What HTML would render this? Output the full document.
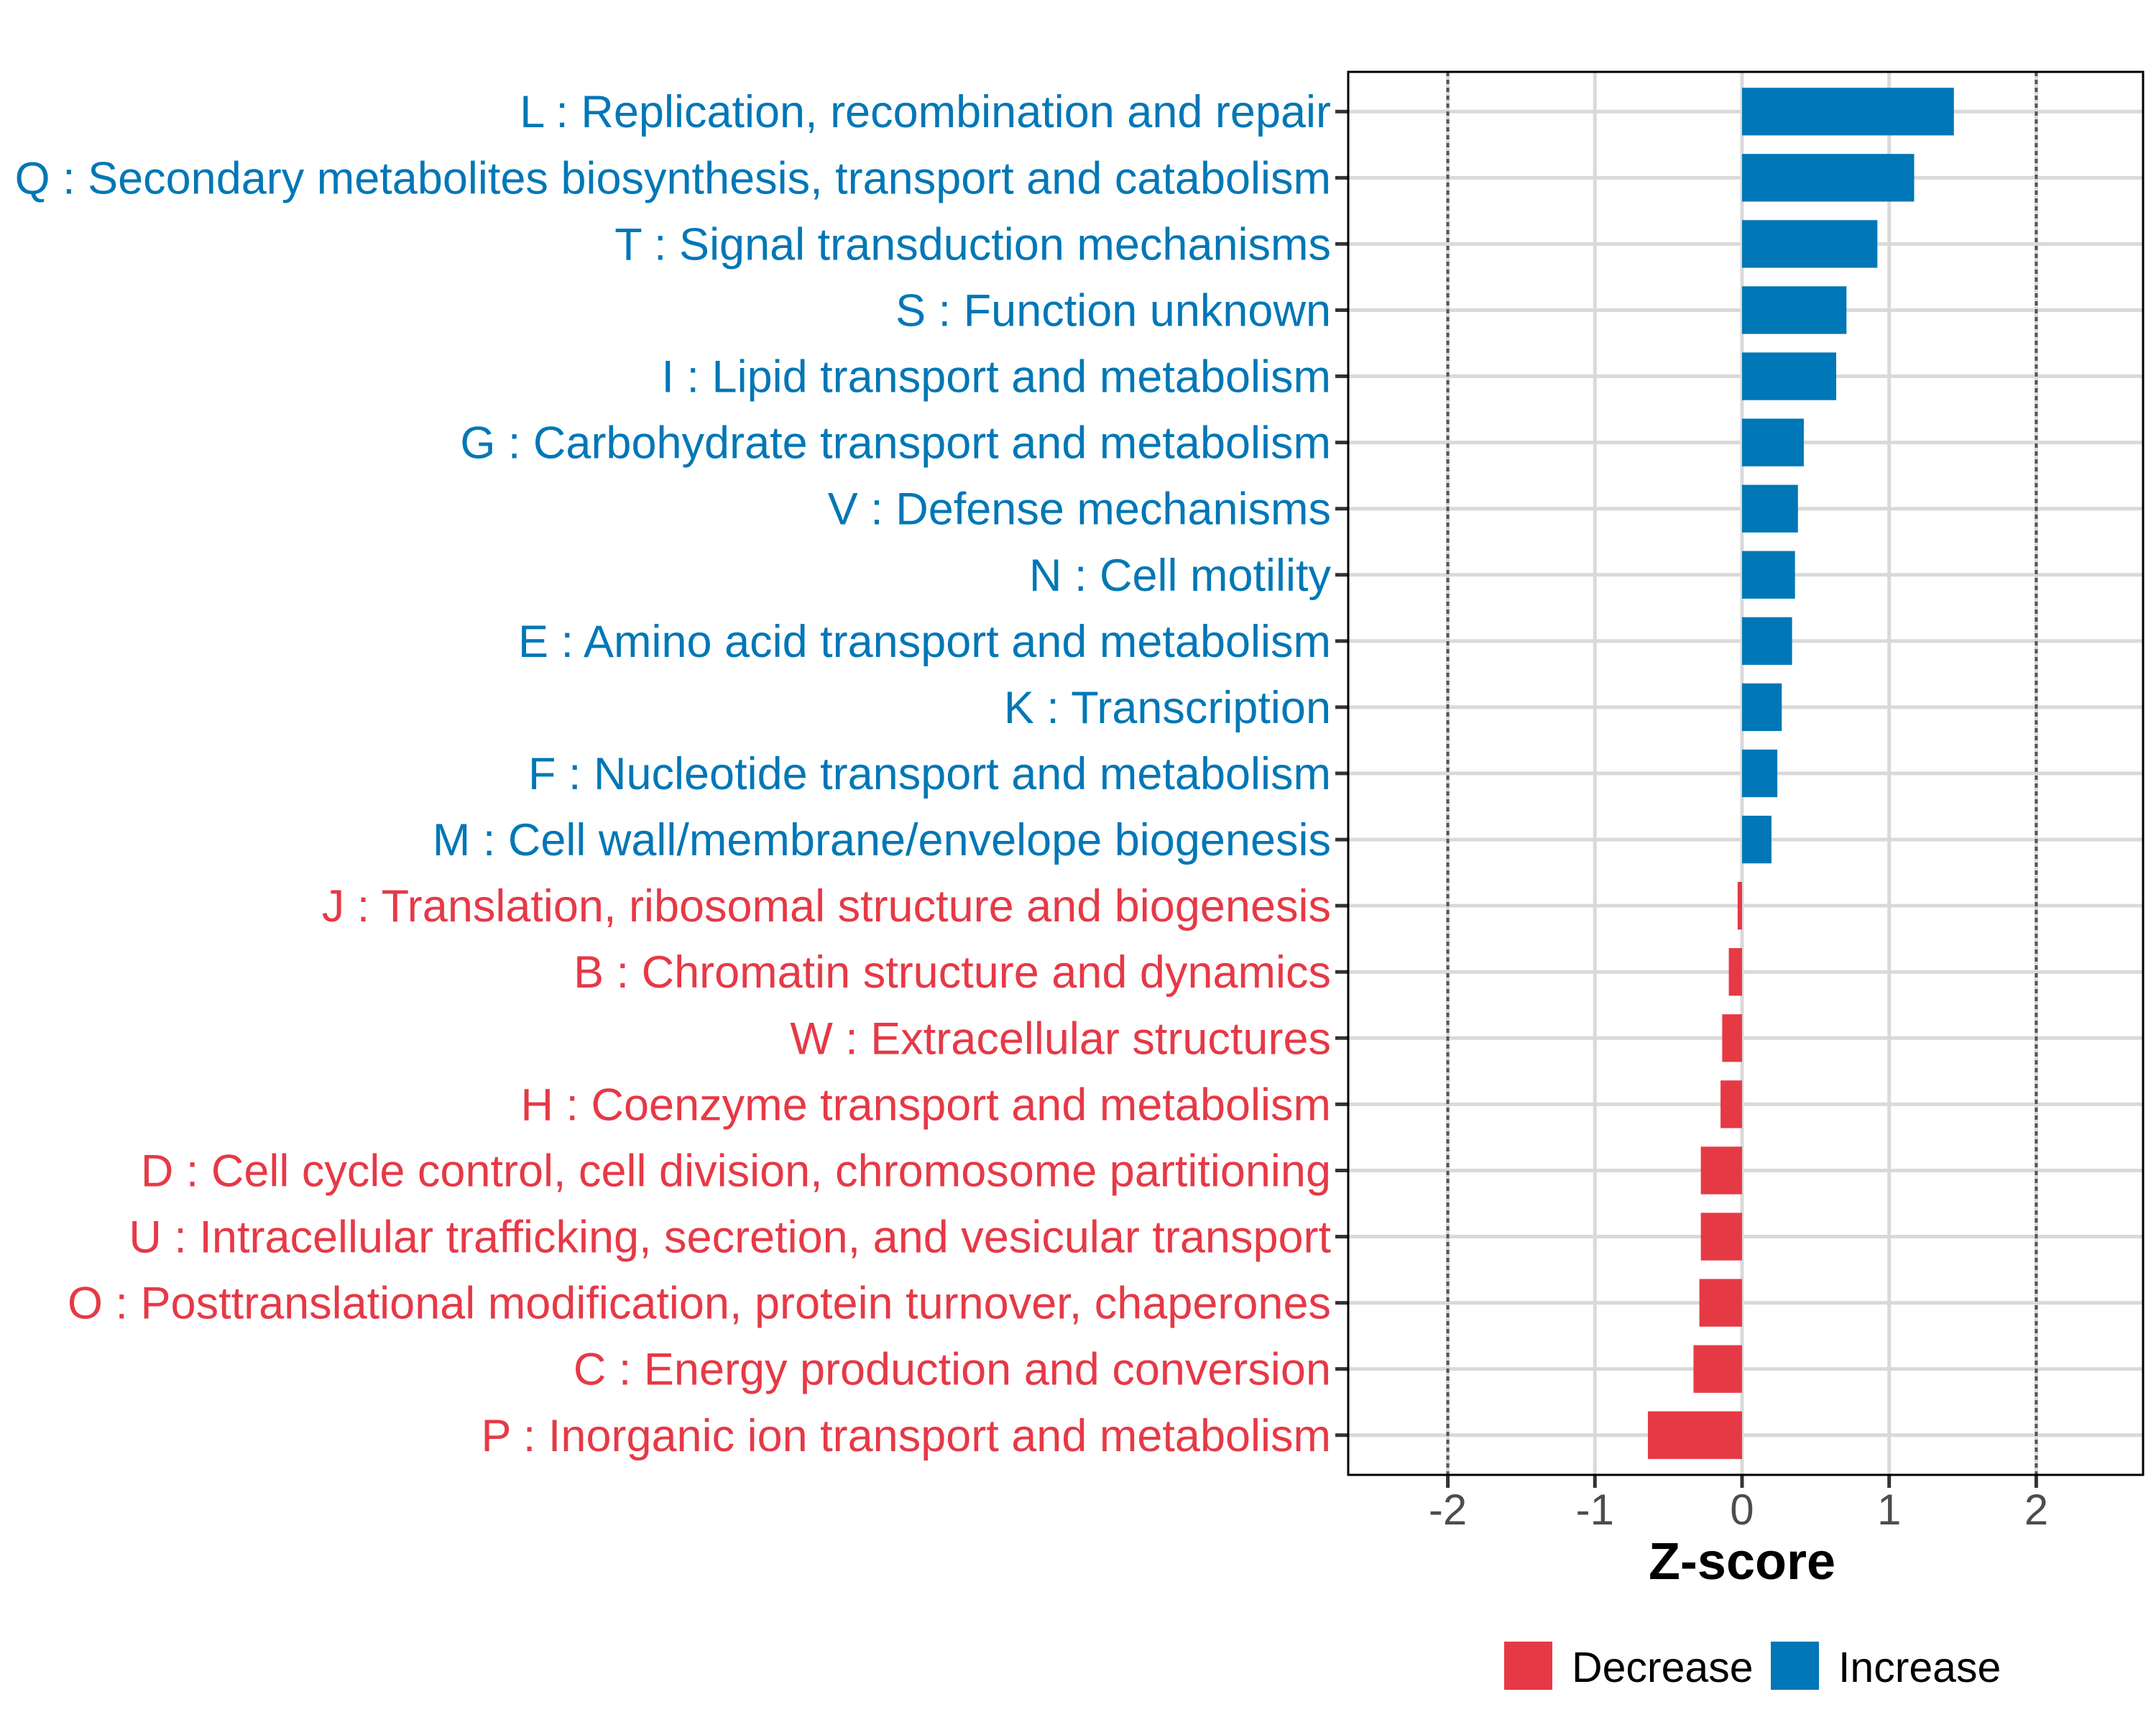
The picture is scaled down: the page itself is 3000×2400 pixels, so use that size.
<!DOCTYPE html>
<html><head><meta charset="utf-8"><style>
html,body{margin:0;padding:0;background:#fff;}
svg{display:block;font-family:"Liberation Sans",sans-serif;}
</style></head><body>
<svg id="chart" width="3000" height="2400" viewBox="0 0 3000 2400" xmlns="http://www.w3.org/2000/svg">
<rect width="3000" height="2400" fill="#fff"/>
<g id="grid"></g>
<g id="bars"></g>
<g id="yaxis"></g>
<g id="xaxis"></g>
<rect x="1876" y="100" width="1106" height="1952" fill="none" stroke="#000" stroke-width="3"/>
<text x="2424" y="2197" text-anchor="middle" font-size="72" font-weight="bold" fill="#000">Z-score</text>
<g>
<rect x="2093" y="2284" width="67" height="67" fill="#e63946"/>
<text x="2187" y="2340" font-size="59" fill="#000">Decrease</text>
<rect x="2464" y="2284" width="67" height="67" fill="#0077b6"/>
<text x="2558" y="2340" font-size="59" fill="#000">Increase</text>
</g>
</svg>
<script>
const categories = [
"L : Replication, recombination and repair",
"Q : Secondary metabolites biosynthesis, transport and catabolism",
"T : Signal transduction mechanisms",
"S : Function unknown",
"I : Lipid transport and metabolism",
"G : Carbohydrate transport and metabolism",
"V : Defense mechanisms",
"N : Cell motility",
"E : Amino acid transport and metabolism",
"K : Transcription",
"F : Nucleotide transport and metabolism",
"M : Cell wall/membrane/envelope biogenesis",
"J : Translation, ribosomal structure and biogenesis",
"B : Chromatin structure and dynamics",
"W : Extracellular structures",
"H : Coenzyme transport and metabolism",
"D : Cell cycle control, cell division, chromosome partitioning",
"U : Intracellular trafficking, secretion, and vesicular transport",
"O : Posttranslational modification, protein turnover, chaperones",
"C : Energy production and conversion",
"P : Inorganic ion transport and metabolism"
];
const zscores = [1.44,1.17,0.92,0.71,0.64,0.42,0.38,0.36,0.34,0.27,0.24,0.20,-0.03,-0.09,-0.135,-0.146,-0.28,-0.28,-0.29,-0.33,-0.64];
const xTicks = [-2,-1,0,1,2];
const xTickLabels = ["-2","-1","0","1","2"];
const thresholds = [-2,2];

const NS="http://www.w3.org/2000/svg";
const PX0=1876, PX1=2982, PY0=100, PY1=2052;
const XMIN=-2.677, XMAX=2.726;
function xs(v){return PX0+(v-XMIN)/(XMAX-XMIN)*(PX1-PX0);}
const n=categories.length;
const step=(PY1-PY0)/(n+0.2);
function ys(i){return PY0+step*(i+0.6);}
const BLUE="#0077b6", RED="#e63946";
function mk(tag,attrs,parent){const e=document.createElementNS(NS,tag);for(const k in attrs)e.setAttribute(k,attrs[k]);parent.appendChild(e);return e;}
const grid=document.getElementById('grid'), bars=document.getElementById('bars'), yaxis=document.getElementById('yaxis'), xaxis=document.getElementById('xaxis');

xTicks.forEach(v=>{
  const l=mk('line',{x1:xs(v),x2:xs(v),y1:PY0,y2:PY1,stroke:'#d9d9d9','stroke-width':5},grid);
  
  
});
categories.forEach((c,i)=>{
  const l=mk('line',{x1:PX0,x2:PX1,y1:ys(i),y2:ys(i),stroke:'#d9d9d9','stroke-width':5},grid);
  
  
});
thresholds.forEach(v=>{
  const l=mk('line',{x1:xs(v),x2:xs(v),y1:PY0,y2:PY1,stroke:'#555','stroke-width':4,'stroke-dasharray':'6 5'},grid);
  
  
});

const bh=step*0.72;
zscores.forEach((v,i)=>{
  const x0=xs(Math.min(0,v)), x1=xs(Math.max(0,v));
  const r=mk('rect',{x:x0,y:ys(i)-bh/2,width:Math.max(x1-x0,1),height:bh,fill:v>=0?BLUE:RED},bars);
  
  
});

categories.forEach((c,i)=>{
  const t=mk('line',{x1:PX0-18,x2:PX0,y1:ys(i),y2:ys(i),stroke:'#333','stroke-width':5},yaxis);
  
  
  const tx=mk('text',{x:1852,y:ys(i)+22,'text-anchor':'end','font-size':63,fill:zscores[i]>=0?BLUE:RED},yaxis);
  tx.textContent=c;
  
  
});

xTicks.forEach((v,i)=>{
  const t=mk('line',{x1:xs(v),x2:xs(v),y1:PY1,y2:PY1+18,stroke:'#333','stroke-width':5},xaxis);
  
  
  const tx=mk('text',{x:xs(v),y:2121,'text-anchor':'middle','font-size':60,fill:'#4d4d4d'},xaxis);
  tx.textContent=xTickLabels[i];
  
  
});
</script>
</body></html>
